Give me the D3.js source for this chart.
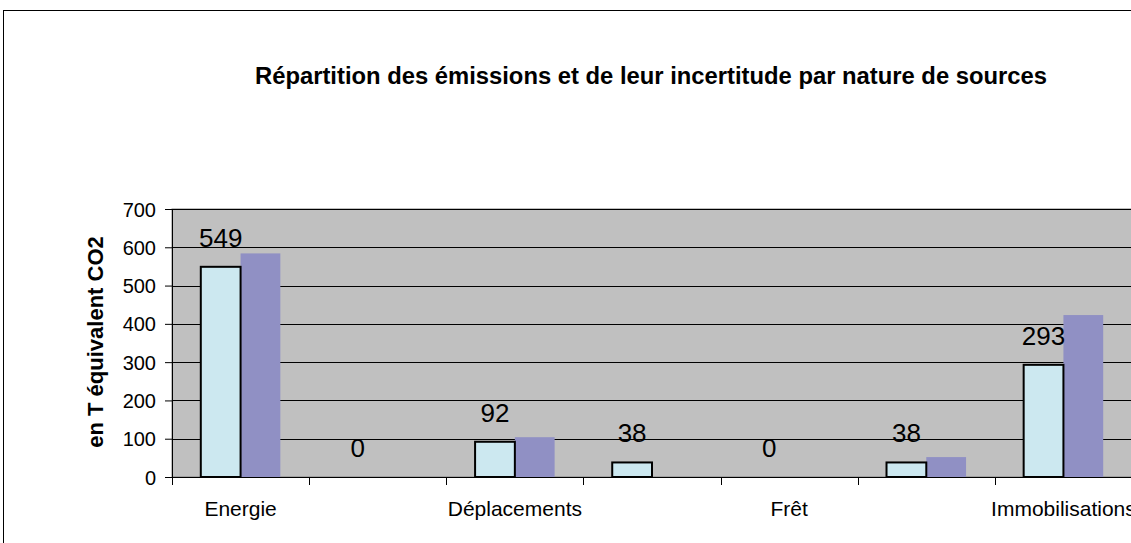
<!DOCTYPE html>
<html><head><meta charset="utf-8">
<script src="https://cdn.jsdelivr.net/npm/d3@7"></script>
<style>body{margin:0;background:#fff;} svg{display:block;}</style>
</head><body>
<svg id="c" width="1131" height="543"></svg>
<script>
const categories = ["Energie","Hors énergie","Déplacements","Intrants","Frêt","Déchets","Immobilisations"];
const tickLabels = ["Energie","","Déplacements","","Frêt","","Immobilisations"];
const emissions = [549, 0, 92, 38, 0, 38, 293];
const uncertaintyHigh = [584, 0, 104, 0, 0, 52, 423];
const yTicks = [0,100,200,300,400,500,600,700];
const title = "Répartition des émissions et de leur incertitude par nature de sources";
const yTitle = "en T équivalent CO2";

const svg = d3.select("#c");
const L = 172, T = 209, B = 477, R = 1132;
const FONT = "Liberation Sans, Arial, sans-serif";
svg.append("rect").attr("x",3.5).attr("y",10.5).attr("width",1140).attr("height",545)
  .attr("fill","#fff").attr("stroke","#000").attr("stroke-width",1);

const x = d3.scaleBand().domain(categories).range([L,R]).paddingInner(0).paddingOuter(0);
const y = d3.scaleLinear().domain([0,700]).range([B,T]);
const bw = x.bandwidth();
const barW = bw*0.29, off = bw*0.21;

svg.append("rect").attr("x",L).attr("y",T).attr("width",R-L).attr("height",B-T)
  .attr("fill","#C0C0C0").attr("stroke","#808080").attr("stroke-width",1);

svg.append("g").selectAll("line").data(yTicks.filter(d=>d>0)).join("line")
  .attr("x1",L).attr("x2",R).attr("y1",d=>Math.round(y(d))+0.5).attr("y2",d=>Math.round(y(d))+0.5)
  .attr("stroke","#000").attr("stroke-width",1);

// uncertainty bars
svg.append("g").selectAll("rect").data(categories).join("rect")
  .attr("x",(d,i)=>x(d)+off+barW).attr("width",barW)
  .attr("y",(d,i)=>y(uncertaintyHigh[i])).attr("height",(d,i)=>B-y(uncertaintyHigh[i]))
  .attr("fill","#9090C4");

// emission bars
svg.append("g").selectAll("rect").data(categories).join("rect")
  .attr("x",(d,i)=>x(d)+off).attr("width",barW)
  .attr("y",(d,i)=>y(emissions[i])).attr("height",(d,i)=>B-y(emissions[i]))
  .attr("fill","#CCE8F0").attr("stroke","#000").attr("stroke-width",2)
  .attr("display",(d,i)=>emissions[i]>0?null:"none");

// y axis
const yAxis = svg.append("g").attr("transform",`translate(${L},0)`)
  .call(d3.axisLeft(y).tickValues(yTicks).tickSize(7).tickPadding(9));
yAxis.select(".domain").attr("stroke","#000");
yAxis.selectAll("text").attr("font-family",FONT).attr("font-size",20).attr("fill","#000").attr("dy","0.35em");

// x axis
svg.append("line").attr("x1",L).attr("x2",R).attr("y1",B+0.5).attr("y2",B+0.5).attr("stroke","#000");
const bounds = categories.map(d=>x(d)).concat([R]);
svg.append("g").selectAll("line").data(bounds).join("line")
  .attr("x1",d=>Math.round(d)+0.5).attr("x2",d=>Math.round(d)+0.5).attr("y1",B).attr("y2",B+8).attr("stroke","#000");
svg.append("g").selectAll("text").data(categories).join("text")
  .attr("x",d=>x(d)+bw/2).attr("y",516).attr("text-anchor","middle")
  .attr("font-family",FONT).attr("font-size",21).attr("fill","#000")
  .text((d,i)=>tickLabels[i]);

// data labels
svg.append("g").selectAll("text").data(categories).join("text")
  .attr("x",d=>x(d)+off+barW/2).attr("y",(d,i)=>y(emissions[i])-20)
  .attr("text-anchor","middle")
  .attr("font-family",FONT).attr("font-size",26).attr("fill","#000")
  .text((d,i)=>emissions[i]);

// title
svg.append("text").attr("x",651).attr("y",84).attr("text-anchor","middle")
  .attr("font-family",FONT).attr("font-weight","bold").attr("font-size",23.5)
  .attr("textLength",792).attr("lengthAdjust","spacingAndGlyphs")
  .text(title);

svg.append("text").attr("transform","translate(103,342) rotate(-90)").attr("text-anchor","middle")
  .attr("font-family",FONT).attr("font-weight","bold").attr("font-size",22)
  .text(yTitle);
</script>
</body></html>
